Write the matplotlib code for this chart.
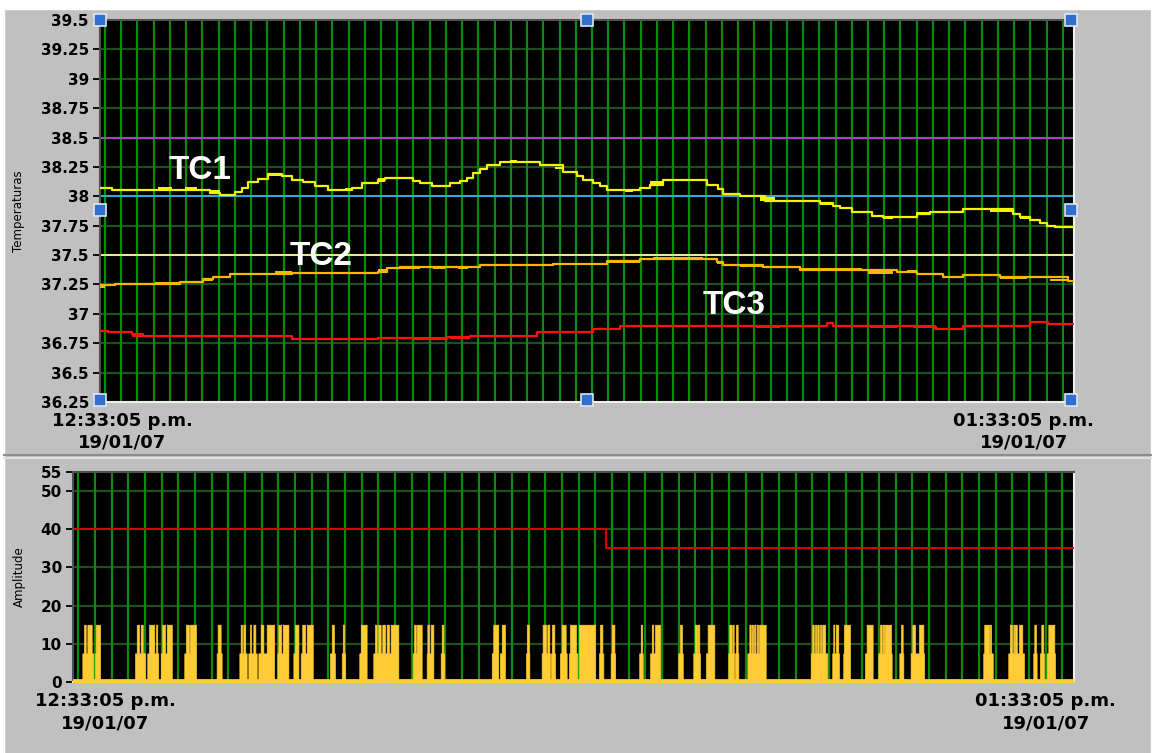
import numpy as np
import matplotlib.pyplot as plt
from matplotlib.lines import Line2D
from matplotlib.patches import Rectangle

# time axis: minutes after 12:33:05 p.m.
T_END = 60.0

# TC1 stepped readings (minute, deg C)
tc1_t = [0, 0.72, 6.78, 7.39, 8.32, 8.73, 9.14, 9.75, 10.37, 11.19, 11.81, 12.52,
         13.24, 14.06, 15.50, 16.12, 17.14, 17.56, 19.30, 19.71, 20.43, 21.56, 22.18,
         22.59, 23.00, 23.41, 23.82, 24.64, 27.10, 28.54, 29.36, 29.77, 30.39, 30.80,
         31.21, 33.26, 33.88, 34.70, 37.37, 38.09, 38.40, 39.42, 40.96, 44.35, 45.17,
         45.58, 46.30, 47.54, 48.25, 50.31, 51.13, 53.18, 56.26, 56.67, 57.29, 57.90,
         58.32, 58.83]
tc1_v = [38.07, 38.05, 38.03, 38.01, 38.04, 38.07, 38.12, 38.15, 38.19, 38.17, 38.14,
         38.12, 38.09, 38.05, 38.07, 38.11, 38.14, 38.16, 38.13, 38.11, 38.09, 38.11,
         38.13, 38.16, 38.20, 38.23, 38.27, 38.29, 38.27, 38.21, 38.17, 38.14, 38.11,
         38.09, 38.05, 38.07, 38.10, 38.14, 38.10, 38.06, 38.02, 38.00, 37.96, 37.94,
         37.92, 37.90, 37.87, 37.83, 37.82, 37.85, 37.87, 37.89, 37.85, 37.82, 37.80,
         37.77, 37.75, 37.74]
# (start, end, low, high) where the reading flickers between two levels
tc1_flicker = [(0, 0.72, 38.06, 38.08), (3.59, 4.41, 38.05, 38.075), (5.24, 5.96, 38.05, 38.075),
               (6.78, 7.39, 38.02, 38.05), (10.35, 11.15, 38.17, 38.20), (15.09, 15.52, 38.05, 38.07),
               (17.12, 17.56, 38.12, 38.16), (17.56, 19.28, 38.15, 38.165), (20.43, 21.56, 38.08, 38.10),
               (25.26, 25.67, 38.29, 38.31), (28.03, 28.52, 38.23, 38.25), (32.34, 32.83, 38.04, 38.06),
               (33.88, 34.68, 38.10, 38.13), (34.68, 35.30, 38.13, 38.15), (40.66, 41.58, 37.96, 37.99),
               (44.35, 45.15, 37.93, 37.95), (48.23, 48.85, 37.81, 37.83), (50.27, 51.13, 37.84, 37.87),
               (54.82, 56.24, 37.87, 37.89), (56.67, 57.29, 37.81, 37.83), (58.32, 58.83, 37.74, 37.76)]

tc2_t = [0, 0.92, 4.93, 6.36, 6.98, 8.01, 11.81, 17.14, 17.66, 18.48, 22.67, 23.41, 27.90,
         31.23, 33.26, 37.99, 38.40, 40.86, 43.12, 49.08, 50.31, 51.95, 53.18, 55.44, 59.65]
tc2_v = [37.245, 37.255, 37.275, 37.295, 37.31, 37.34, 37.345, 37.36, 37.387, 37.395,
         37.40, 37.418, 37.424, 37.452, 37.466, 37.44, 37.418, 37.395, 37.376, 37.353,
         37.339, 37.316, 37.33, 37.31, 37.277]
tc2_flicker = [(0, 0.31, 37.22, 37.25), (3.39, 4.93, 37.255, 37.27), (6.36, 6.98, 37.28, 37.30),
               (10.78, 11.81, 37.345, 37.365), (17.12, 17.62, 37.36, 37.38), (18.48, 19.71, 37.385, 37.395),
               (20.51, 21.25, 37.385, 37.395), (22.05, 22.67, 37.38, 37.41), (23.41, 25.87, 37.41, 37.425),
               (29.98, 31.21, 37.415, 37.43), (31.21, 33.26, 37.43, 37.46), (34.06, 37.14, 37.466, 37.48),
               (37.99, 38.40, 37.42, 37.44), (39.42, 40.84, 37.40, 37.415), (43.12, 46.94, 37.376, 37.39),
               (47.31, 48.85, 37.34, 37.376), (49.71, 50.33, 37.35, 37.37), (53.16, 54.21, 37.32, 37.33),
               (55.44, 57.10, 37.30, 37.31), (58.52, 59.63, 37.28, 37.30)]

tc3_t = [0, 0.51, 1.95, 2.67, 11.81, 17.14, 19.30, 21.38, 22.79, 26.90, 30.39, 32.03,
         44.76, 45.17, 51.44, 53.16, 57.29, 58.40]
tc3_v = [36.858, 36.845, 36.83, 36.808, 36.783, 36.797, 36.79, 36.80, 36.81, 36.845,
         36.867, 36.90, 36.92, 36.90, 36.875, 36.90, 36.93, 36.91]
tc3_flicker = [(0, 0.51, 36.85, 36.865), (1.95, 2.67, 36.80, 36.83), (12.14, 13.55, 36.775, 36.79),
               (14.66, 17.14, 36.775, 36.79), (17.25, 21.38, 36.785, 36.80), (21.56, 22.79, 36.79, 36.80),
               (30.37, 31.42, 36.86, 36.87), (32.03, 34.50, 36.89, 36.90), (35.11, 36.16, 36.89, 36.90),
               (40.41, 41.89, 36.88, 36.90), (43.92, 44.78, 36.89, 36.90), (47.43, 49.10, 36.88, 36.90),
               (50.08, 51.56, 36.88, 36.90), (52.36, 53.16, 36.865, 36.875), (53.16, 57.29, 36.89, 36.90)]

# alarm limits
limits = [38.5, 38.0, 37.5]
limit_colors = ['#b040d0', '#3aa8d8', '#f0f080']

# amplitude bursts: base level 7.5 and peaks at 15
amp_base = [(0.56, 1.22), (1.32, 1.62), (3.72, 4.32), (4.45, 5.11), (5.26, 5.92), (6.67, 7.37),
            (8.61, 8.91), (9.97, 10.41), (10.51, 11.01), (11.11, 12.05), (12.25, 12.91),
            (13.21, 13.51), (13.65, 14.37), (15.40, 15.70), (16.11, 16.30), (17.16, 17.60),
            (18.00, 19.50), (20.36, 20.90), (21.20, 21.60), (22.04, 22.24), (25.10, 25.49),
            (25.59, 25.89), (27.15, 27.35), (28.09, 28.59), (28.65, 28.89), (29.19, 29.59),
            (29.73, 30.23), (30.33, 31.29), (31.53, 31.79), (32.23, 32.49), (33.94, 34.15),
            (34.59, 35.19), (36.28, 36.55), (37.18, 37.58), (37.94, 38.44), (39.28, 39.62),
            (39.68, 39.88), (40.42, 41.52), (44.22, 45.21), (45.51, 45.91), (46.17, 46.57),
            (47.47, 47.93), (48.27, 49.07), (49.53, 49.77), (50.21, 51.01), (54.56, 55.13),
            (56.06, 57.00), (57.56, 57.76), (57.96, 58.20), (58.36, 58.86)]
amp_peak = [(0.66, 0.76), (0.86, 1.12), (1.36, 1.62), (3.82, 3.96), (4.06, 4.18), (4.56, 4.87),
            (4.98, 5.05), (5.35, 5.51), (5.62, 5.92), (6.77, 6.95), (7.01, 7.37), (8.67, 8.85),
            (10.05, 10.13), (10.21, 10.31), (10.61, 10.67), (10.81, 10.93), (11.25, 11.41),
            (11.61, 12.05), (12.31, 12.47), (12.57, 12.91), (13.31, 13.51), (13.74, 13.91),
            (14.01, 14.37), (15.51, 15.64), (16.17, 16.24), (17.25, 17.60), (18.10, 18.20),
            (18.30, 18.44), (18.54, 18.70), (18.80, 18.94), (19.04, 19.50), (20.44, 20.54),
            (20.60, 20.90), (21.24, 21.34), (21.44, 21.60), (22.10, 22.20), (25.19, 25.49),
            (25.70, 25.89), (27.20, 27.32), (28.15, 28.35), (28.43, 28.55), (28.71, 28.85),
            (29.29, 29.53), (29.79, 30.15), (30.33, 31.29), (31.59, 31.73), (32.29, 32.45),
            (34.03, 34.11), (34.69, 34.78), (34.89, 35.19), (36.38, 36.50), (37.28, 37.39),
            (37.44, 37.54), (38.04, 38.44), (39.34, 39.48), (39.54, 39.60), (39.74, 39.84),
            (40.54, 40.62), (40.68, 40.76), (40.82, 40.90), (40.98, 41.06), (41.12, 41.52),
            (44.31, 44.40), (44.48, 44.55), (44.61, 44.70), (44.78, 44.85), (44.91, 45.08),
            (45.57, 45.63), (45.72, 45.87), (46.21, 46.57), (47.57, 47.93), (48.37, 48.47),
            (48.53, 48.63), (48.67, 48.77), (48.81, 49.03), (49.63, 49.73), (50.31, 50.47),
            (50.71, 50.97), (54.62, 54.92), (54.97, 55.03), (56.16, 56.27), (56.36, 56.42),
            (56.46, 56.57), (56.70, 56.90), (57.62, 57.72), (58.04, 58.16), (58.46, 58.82)]
BASE_LEVEL = 7.5
PEAK_LEVEL = 15

# amplitude alarm threshold (minute it changes, level)
thr_t = [0, 31.95]
thr_v = [40, 35]

start_label = '12:33:05 p.m.\n19/01/07'
end_label = '01:33:05 p.m.\n19/01/07'

BG = '#c0c0c0'
VGRID = '#0a8c0a'
HGRID = '#1f4f1f'


def step_xy(t, v):
    return list(t) + [T_END], list(v) + [v[-1]]


def amplitude_signal():
    edges = sorted(set([0, T_END] + [e for seg in amp_base + amp_peak for e in seg]))
    levels = []
    for a, b in zip(edges[:-1], edges[1:]):
        m = 0.5 * (a + b)
        lv = 0
        if any(s <= m < e for s, e in amp_base):
            lv = BASE_LEVEL
        if any(s <= m < e for s, e in amp_peak):
            lv = PEAK_LEVEL
        levels.append(lv)
    levels.append(levels[-1])
    return np.array(edges), np.array(levels)


def style_axes(ax):
    ax.set_facecolor('black')
    ax.set_xlim(0, T_END)
    ax.set_xticks([])
    for x in np.arange(0.31, T_END, 1.0):
        ax.axvline(x, color=VGRID, lw=1.6, zorder=1)
    ax.spines['left'].set_color('#505050')
    ax.spines['top'].set_color('#505050')
    ax.spines['right'].set_color('#f0f0f0')
    ax.spines['bottom'].set_color('#f0f0f0')
    for s in ax.spines.values():
        s.set_linewidth(1.5)
    ax.tick_params(axis='y', direction='out', length=5, width=1.3, color='black',
                   pad=3, labelsize=11)
    for lbl in ax.get_yticklabels():
        lbl.set_fontweight('bold')


fig = plt.figure(figsize=(11.54, 7.53), dpi=100, facecolor=BG)

# white margins round the window and the splitter between the two graphs
fig.patches.append(Rectangle((0, 1 - 9 / 753), 1, 9 / 753, transform=fig.transFigure,
                             color='white', zorder=0))
fig.patches.append(Rectangle((0, 0), 4 / 1154, 1, transform=fig.transFigure,
                             color='white', zorder=0))
fig.patches.append(Rectangle((1151 / 1154, 0), 3 / 1154, 1, transform=fig.transFigure,
                             color='white', zorder=0))
fig.lines.append(Line2D([4 / 1154, 1151 / 1154], [1 - 455 / 753] * 2, transform=fig.transFigure,
                        color='#8c8c8c', lw=1.5))
fig.lines.append(Line2D([4 / 1154, 1151 / 1154], [1 - 458 / 753] * 2, transform=fig.transFigure,
                        color='#e2e2e2', lw=1.5))

# ---- temperatures ----
ax1 = fig.add_axes([100 / 1154, 1 - 402 / 753, 974 / 1154, 382 / 753])
ax1.set_ylim(36.25, 39.5)
yt = np.arange(36.25, 39.51, 0.25)
ax1.set_yticks(yt)
ax1.set_yticklabels(['{:g}'.format(round(v, 2)) for v in yt])
for y in yt[1:-1]:
    ax1.axhline(y, color=HGRID, lw=1.6, zorder=0.9)
style_axes(ax1)

for y, c in zip(limits, limit_colors):
    ax1.axhline(y, color=c, lw=1.4, zorder=2)

series = [(tc1_t, tc1_v, tc1_flicker, '#f4f400'),
          (tc2_t, tc2_v, tc2_flicker, '#f4b800'),
          (tc3_t, tc3_v, tc3_flicker, '#ff1010')]
for t, v, flick, c in series:
    x, y = step_xy(t, v)
    ax1.step(x, y, where='post', color=c, lw=1.6, zorder=3)
    for t0, t1, lo, hi in flick:
        ax1.fill_between([t0, t1], lo, hi, color=c, lw=0, zorder=3)

for name, tx, ty in [('TC1', 6.16, 38.22), ('TC2', 13.62, 37.49), ('TC3', 39.06, 37.07)]:
    ax1.text(tx, ty, name, color='white', fontsize=24, fontweight='bold',
             family='Liberation Sans', ha='center', va='center', zorder=5)

# cursor handles
for hx, hy in [(0, 1), (0.5, 1), (0.997, 1), (0, 0.503), (0.997, 0.503),
               (0, 0.005), (0.5, 0.005), (0.997, 0.005)]:
    ax1.plot(hx, hy, 's', transform=ax1.transAxes, ms=8, mfc='#2f6fcf', mec='#dde6f2',
             mew=1.2, clip_on=False, zorder=10)

ax1.text(1.36, -0.025, start_label, ha='center', va='top', fontsize=13, fontweight='bold',
         transform=ax1.get_xaxis_transform(), linespacing=1.25)
ax1.text(56.9, -0.025, end_label, ha='center', va='top', fontsize=13, fontweight='bold',
         transform=ax1.get_xaxis_transform(), linespacing=1.25)
fig.text(19 / 1154, 1 - 211 / 753, 'Temperaturas', rotation=90, ha='center', va='center',
         fontsize=8.5)

# ---- amplitude ----
ax2 = fig.add_axes([73 / 1154, 1 - 682 / 753, 1001 / 1154, 210 / 753])
ax2.set_ylim(0, 55)
ax2.set_yticks([0, 10, 20, 30, 40, 50, 55])
for y in [10, 20, 30, 40, 50]:
    ax2.axhline(y, color=HGRID, lw=1.6, zorder=0.9)
style_axes(ax2)

at, av = amplitude_signal()
ax2.fill_between(at, 0, av, step='post', color='#ffcc33', lw=0.5, edgecolor='#ffcc33',
                 antialiased=False, zorder=3)
ax2.axhline(0.4, color='#ffcc33', lw=2, zorder=3)
tx, tv = step_xy(thr_t, thr_v)
ax2.step(tx, tv, where='post', color='#e00000', lw=1.4, zorder=4)

ax2.text(1.92, -0.05, start_label, ha='center', va='top', fontsize=13, fontweight='bold',
         transform=ax2.get_xaxis_transform(), linespacing=1.25)
ax2.text(58.3, -0.05, end_label, ha='center', va='top', fontsize=13, fontweight='bold',
         transform=ax2.get_xaxis_transform(), linespacing=1.25)
fig.text(19 / 1154, 1 - 577 / 753, 'Amplitude', rotation=90, ha='center', va='center',
         fontsize=8.5)

fig.savefig('out.png', dpi=100, facecolor=BG)
